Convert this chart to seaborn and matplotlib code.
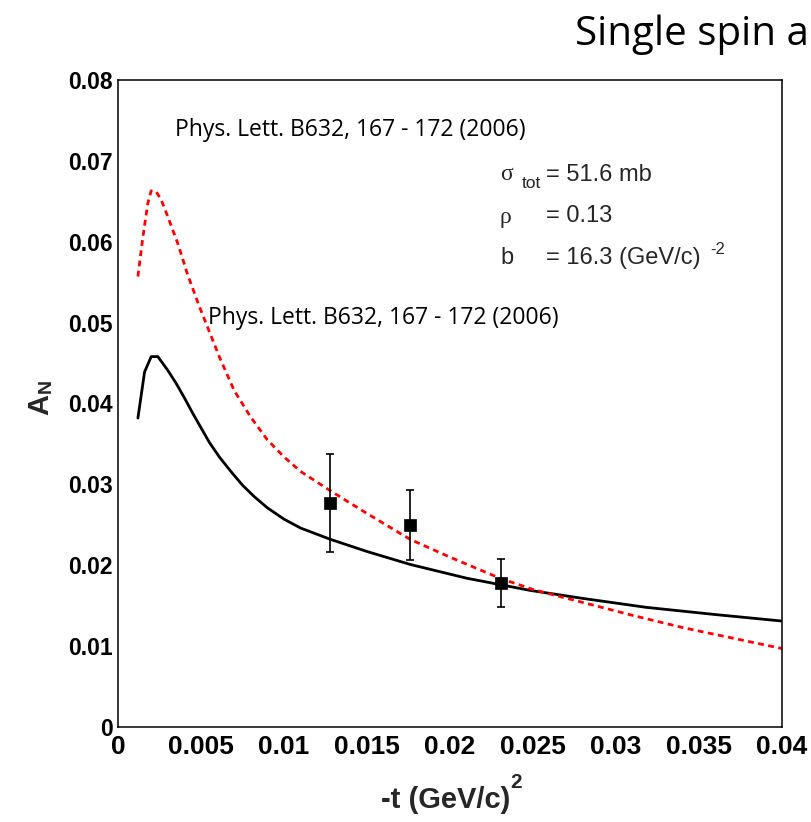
import numpy as np
import pandas as pd
import seaborn as sns
import matplotlib
matplotlib.use("Agg")
import matplotlib.pyplot as plt
from matplotlib.ticker import MultipleLocator

# ---- data ----
red_t = [0.0012, 0.0015, 0.0018, 0.0020, 0.0023, 0.0026, 0.0030, 0.0036, 0.0042, 0.0049,
         0.0055, 0.0061, 0.0070, 0.0080, 0.0090, 0.0100, 0.0110, 0.0128, 0.0150, 0.0176,
         0.0200, 0.0230, 0.0250, 0.0280, 0.0310, 0.0340, 0.0370, 0.0400]
red_a = [0.0557, 0.0606, 0.0648, 0.0663, 0.0662, 0.0652, 0.0631, 0.0598, 0.0559, 0.0520,
         0.0489, 0.0458, 0.0416, 0.0383, 0.0355, 0.0334, 0.0316, 0.0292, 0.0264, 0.0232,
         0.0210, 0.0184, 0.0170, 0.0154, 0.0138, 0.0123, 0.0110, 0.0097]

black_t = [0.0012, 0.0016, 0.0020, 0.0024, 0.0030, 0.0035, 0.0040, 0.0045, 0.0050, 0.0055,
           0.0061, 0.0068, 0.0075, 0.0082, 0.0090, 0.0100, 0.0110, 0.0128, 0.0150, 0.0176,
           0.0210, 0.0248, 0.0280, 0.0318, 0.0360, 0.0400]
black_a = [0.0382, 0.0439, 0.0458, 0.0458, 0.0441, 0.0425, 0.0407, 0.0388, 0.0370, 0.0352,
           0.0334, 0.0316, 0.0299, 0.0285, 0.0271, 0.0257, 0.0246, 0.0232, 0.0217, 0.0201,
           0.0184, 0.0169, 0.0159, 0.0148, 0.0139, 0.0131]

data_t = [0.0128, 0.0176, 0.0231]
data_a = [0.0277, 0.0250, 0.0178]
data_err = [0.0060, 0.0043, 0.0030]

xtick_vals = [0, 0.005, 0.01, 0.015, 0.02, 0.025, 0.03, 0.035, 0.04]
xtick_labels = ["0", "0.005", "0.01", "0.015", "0.02", "0.025", "0.03", "0.035", "0.04"]
ytick_vals = [0, 0.01, 0.02, 0.03, 0.04, 0.05, 0.06, 0.07, 0.08]
ytick_labels = ["0", "0.01", "0.02", "0.03", "0.04", "0.05", "0.06", "0.07", "0.08"]

ref_text = "Phys. Lett. B632, 167 - 172 (2006)"
title_text = "Single spin a"

sns.set_style("white")
plt.rcParams['font.family'] = ['Liberation Sans', 'DejaVu Sans']

W, H = 812, 822
fig = plt.figure(figsize=(W / 100, H / 100), dpi=100)

def fx(px):
    return px / W

def fy(py):
    return 1 - py / H

ax = fig.add_axes([fx(118), fy(727), fx(782) - fx(118), fy(80) - fy(727)])

red_df = pd.DataFrame({"t": red_t, "A": red_a})
black_df = pd.DataFrame({"t": black_t, "A": black_a})

sns.lineplot(data=black_df, x="t", y="A", ax=ax, color="black", linewidth=2.0,
             sort=False, estimator=None)
sns.lineplot(data=red_df, x="t", y="A", ax=ax, color="#ff0000", linewidth=2.0,
             linestyle=(0, (2.1, 1.6)), sort=False, estimator=None)

ax.errorbar(data_t, data_a, yerr=data_err, fmt="none", ecolor="black",
            elinewidth=1.2, capsize=3, capthick=1.2, zorder=4)
sns.scatterplot(x=data_t, y=data_a, ax=ax, marker="s", color="black", s=75,
                edgecolor="black", linewidth=0.5, zorder=5)

ax.set_xlim(0, 0.04)
ax.set_ylim(0, 0.08)
ax.set_xticks(xtick_vals)
ax.set_xticklabels(xtick_labels)
ax.set_yticks(ytick_vals)
ax.set_yticklabels(ytick_labels)
ax.xaxis.set_minor_locator(MultipleLocator(0.001))
ax.yaxis.set_minor_locator(MultipleLocator(0.002))
ax.tick_params(axis="both", which="both", direction="in", top=False, right=False,
               colors="black")
ax.tick_params(axis="both", which="major", length=14, width=1.0)
ax.tick_params(axis="both", which="minor", length=7, width=1.0)
ax.tick_params(axis="x", which="major", pad=6, labelsize=19)
ax.tick_params(axis="y", which="major", pad=4, labelsize=16.5)
for lab in ax.get_xticklabels() + ax.get_yticklabels():
    lab.set_fontweight("bold")
for sp in ax.spines.values():
    sp.set_visible(True)
    sp.set_color("black")
    sp.set_linewidth(1.1)

ax.set_xlabel("")
ax.set_ylabel("")

# axis titles
fig.text(fx(446), fy(800), "-t (GeV/c)", fontsize=21, fontweight="bold",
         ha="center", va="center")
fig.text(fx(510), fy(782), "2", fontsize=15, fontweight="bold",
         ha="left", va="center")
fig.text(fx(40), fy(404), "A", fontsize=21, fontweight="bold",
         ha="center", va="center", rotation=90)
fig.text(fx(46), fy(386), "N", fontsize=14, fontweight="bold",
         ha="center", va="center", rotation=90)

# slide title (cut off at the right edge)
fig.text(fx(575), fy(35), title_text, fontsize=29, family=["Open Sans", "DejaVu Sans"],
         ha="left", va="center", color="black")

# references
fig.text(fx(175), fy(130), ref_text, fontsize=16.5, family=["Open Sans", "DejaVu Sans"],
         ha="left", va="center", color="black")
fig.text(fx(208), fy(318), ref_text, fontsize=16.5, family=["Open Sans", "DejaVu Sans"],
         ha="left", va="center", color="black")

# parameters text
fs = 17
greek = ["Liberation Serif", "DejaVu Serif"]
fig.text(fx(500), fy(175), "σ", fontsize=fs, family=greek, ha="left", va="center")
fig.text(fx(522), fy(183), "tot", fontsize=12.5, ha="left", va="center")
fig.text(fx(546), fy(175), "= 51.6 mb", fontsize=fs, ha="left", va="center")
fig.text(fx(500), fy(218), "ρ", fontsize=fs, family=greek, ha="left", va="center")
fig.text(fx(546), fy(216), "= 0.13", fontsize=fs, ha="left", va="center")
fig.text(fx(500), fy(258), "b", fontsize=fs, ha="left", va="center")
fig.text(fx(546), fy(258), "= 16.3 (GeV/c)", fontsize=fs, ha="left", va="center")
fig.text(fx(710), fy(250), "-2", fontsize=12, ha="left", va="center")

fig.savefig("out.png", dpi=100, facecolor="white")
